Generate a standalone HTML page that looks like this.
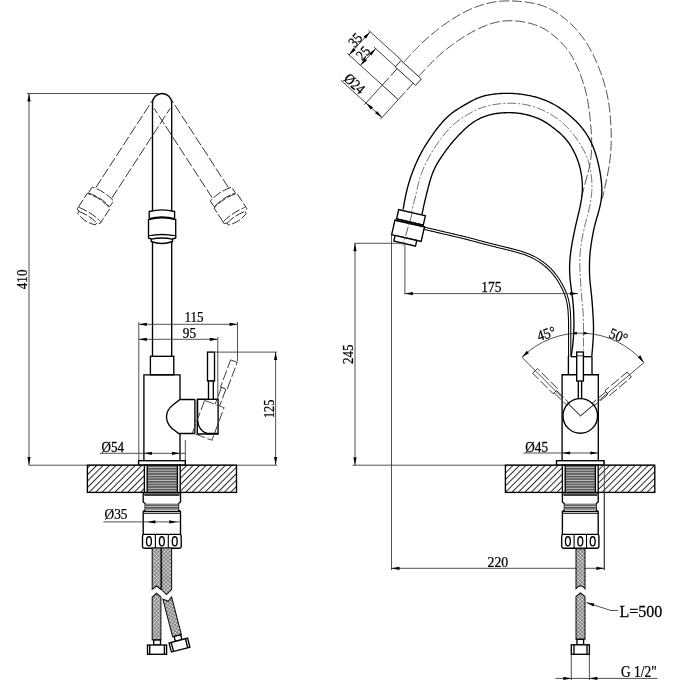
<!DOCTYPE html>
<html><head><meta charset="utf-8"><style>
html,body{margin:0;padding:0;background:#fff;}
svg{display:block;will-change:transform;}
text{font-family:"Liberation Serif",serif;fill:#000;stroke:#000;stroke-width:0.25;}
.o{stroke:#000;stroke-width:1.35;fill:none;}
.o2{stroke:#000;stroke-width:1.1;fill:none;}
.thin{stroke:#222;stroke-width:0.9;fill:none;}
.d{stroke:#333;stroke-width:0.85;fill:none;}
.dash{stroke:#333;stroke-width:0.9;fill:none;stroke-dasharray:10 2.6;}
.dashg{stroke:#4a4a4a;stroke-width:1.0;fill:none;stroke-dasharray:10 2.8;}
.dash2{stroke:#222;stroke-width:0.85;fill:none;stroke-dasharray:9 2.2;}
.ho{stroke:#111;stroke-width:1.05;fill:none;}
.cl{stroke:#444;stroke-width:0.8;fill:none;stroke-dasharray:9 2 2 2;}
</style></head><body>
<svg width="680" height="680" viewBox="0 0 680 680">
<defs>
<pattern id="hatchL" patternUnits="userSpaceOnUse" width="4.55" height="4.55" patternTransform="translate(1.6 0) rotate(45)">
<rect width="4.55" height="4.55" style="fill:#fff"/><line x1="0.5" y1="0" x2="0.5" y2="4.55" stroke="#111" stroke-width="0.9"/>
</pattern>
<pattern id="hatchR" patternUnits="userSpaceOnUse" width="4.55" height="4.55" patternTransform="translate(-0.3 0) rotate(45)">
<rect width="4.55" height="4.55" style="fill:#fff"/><line x1="0.5" y1="0" x2="0.5" y2="4.55" stroke="#111" stroke-width="0.9"/>
</pattern>
<pattern id="thread" patternUnits="userSpaceOnUse" width="4" height="2.6">
<rect width="4" height="2.6" style="fill:#555"/><rect y="1.6" width="4" height="0.8" style="fill:#ddd"/>
</pattern>
<pattern id="braid" patternUnits="userSpaceOnUse" width="2.7" height="2.7" patternTransform="rotate(45)">
<rect width="2.7" height="2.7" style="fill:#8a8a8a"/><circle cx="1.35" cy="1.35" r="0.95" style="fill:#f4f4f4"/><circle cx="0" cy="0" r="0.55" style="fill:#333"/><circle cx="2.7" cy="0" r="0.55" style="fill:#333"/><circle cx="0" cy="2.7" r="0.55" style="fill:#333"/><circle cx="2.7" cy="2.7" r="0.55" style="fill:#333"/>
</pattern>
</defs>
<rect width="680" height="680" style="fill:#fff"/>
<line x1="29.00" y1="93.50" x2="29.00" y2="465.00" class="d"/>
<path d="M29.00,93.50 L30.60,101.50 L27.40,101.50 Z" fill="#000"/>
<path d="M29.00,465.00 L27.40,457.00 L30.60,457.00 Z" fill="#000"/>
<line x1="27.00" y1="93.50" x2="158.00" y2="93.50" class="d"/>
<text transform="translate(21.77 279.37) rotate(-90.0) scale(0.857 1)" font-size="15.26" text-anchor="middle" dominant-baseline="central">410</text>
<g transform="rotate(33.0 162 103.1)">
<path d="M152.5,210 V103.1 M171.7,210 V103.1" class="dash"/>
<path d="M149.2,218 V211.5 Q162,208.2 174.6,211.5 V218" class="dash2" style="fill:#fff"/>
<path d="M148.5,236 V219.5 Q162,216 175.7,219.5 V236 Q162,233 148.5,236 Z" class="dash2" style="fill:#fff"/>
<path d="M149.2,218.6 Q162,215.2 174.6,218.6" class="dash2" stroke-width="2"/>
<path d="M148.5,236 V238 L151.2,239 V241.5 Q162,245.5 172.5,241.5 V239 L175.7,238 V236" class="dash2" style="fill:#fff"/>
<path d="M151.2,239.2 Q162,236.8 172.5,239.2" class="dash2"/>
</g>
<g transform="rotate(-33.0 162 103.1)">
<path d="M152.5,210 V103.1 M171.7,210 V103.1" class="dash"/>
<path d="M149.2,218 V211.5 Q162,208.2 174.6,211.5 V218" class="dash2" style="fill:#fff"/>
<path d="M148.5,236 V219.5 Q162,216 175.7,219.5 V236 Q162,233 148.5,236 Z" class="dash2" style="fill:#fff"/>
<path d="M149.2,218.6 Q162,215.2 174.6,218.6" class="dash2" stroke-width="2"/>
<path d="M148.5,236 V238 L151.2,239 V241.5 Q162,245.5 172.5,241.5 V239 L175.7,238 V236" class="dash2" style="fill:#fff"/>
<path d="M151.2,239.2 Q162,236.8 172.5,239.2" class="dash2"/>
</g>
<path d="M152.5,357 V103.1 A9.6,9.6 0 0 1 171.7,103.1 V357" class="o"/>
<path d="M149.2,218 V211.5 Q162,208.2 174.6,211.5 V218" class="o" style="fill:#fff"/>
<path d="M148.5,236 V219.5 Q162,216 175.7,219.5 V236 Q162,233 148.5,236 Z" class="o" style="fill:#fff"/>
<path d="M149.2,218.6 Q162,215.2 174.6,218.6" class="o" stroke-width="2"/>
<path d="M148.5,236 V238 L151.2,239 V241.5 Q162,245.5 172.5,241.5 V239 L175.7,238 V236" class="o" style="fill:#fff"/>
<path d="M151.2,239.2 Q162,236.8 172.5,239.2" class="o"/>
<rect x="150.4" y="356.3" width="23.4" height="18.5" class="o" style="fill:#fff"/>
<path d="M143.9,461 V374.8 H180 V399.5 M180,433.5 V461" class="o"/>
<path d="M194.9,399.5 H180 L173.5,404.5 Q166.5,410 166.5,416.5 Q166.5,423 171.5,428 L178.7,433.5 H194.9" class="o" style="fill:#fff"/>
<path d="M194.9,399.5 V433.5" class="o"/>
<path d="M197.3,399.2 H218.1 V434 H197.3 Z" class="o" style="fill:#fff"/>
<path d="M197.6,399.5 V420 Q198.5,431 207,433.5 H218" class="o"/>
<rect x="207.5" y="352.1" width="7" height="28.9" class="o" style="fill:#fff"/>
<rect x="208.5" y="381" width="4.8" height="18.3" class="o" style="fill:#fff"/>
<g transform="rotate(20.5 197.6 420)">
<rect x="207.5" y="352.1" width="7" height="28.9" class="dash"/>
<path d="M208.5,381 V399 M213.3,381 V399" class="dash"/>
<path d="M197.3,399.2 H218.1 V434 H197.3 Z" class="dash"/>
</g>
<line x1="138.80" y1="322.00" x2="138.80" y2="460.50" class="d"/>
<line x1="138.80" y1="324.30" x2="237.50" y2="324.30" class="d"/>
<path d="M138.80,324.30 L146.80,322.70 L146.80,325.90 Z" fill="#000"/>
<path d="M237.50,324.30 L229.50,325.90 L229.50,322.70 Z" fill="#000"/>
<line x1="237.50" y1="322.00" x2="237.50" y2="361.00" class="d"/>
<text transform="translate(193.94 317.40) rotate(0.0) scale(0.930 1)" font-size="14.02" text-anchor="middle" dominant-baseline="central">115</text>
<line x1="138.80" y1="339.30" x2="217.80" y2="339.30" class="d"/>
<path d="M138.80,339.30 L146.80,337.70 L146.80,340.90 Z" fill="#000"/>
<path d="M217.80,339.30 L209.80,340.90 L209.80,337.70 Z" fill="#000"/>
<line x1="217.80" y1="337.00" x2="217.80" y2="399.00" class="d"/>
<text transform="translate(189.45 333.41) rotate(0.0) scale(0.961 1)" font-size="13.83" text-anchor="middle" dominant-baseline="central">95</text>
<line x1="214.50" y1="352.10" x2="277.00" y2="352.10" class="d"/>
<line x1="275.60" y1="352.10" x2="275.60" y2="465.00" class="d"/>
<path d="M275.60,352.10 L277.20,360.10 L274.00,360.10 Z" fill="#000"/>
<path d="M275.60,465.00 L274.00,457.00 L277.20,457.00 Z" fill="#000"/>
<text transform="translate(268.79 408.91) rotate(-90.0) scale(0.843 1)" font-size="14.54" text-anchor="middle" dominant-baseline="central">125</text>
<line x1="99.70" y1="453.30" x2="185.50" y2="453.30" class="d"/>
<path d="M143.90,453.30 L151.90,451.70 L151.90,454.90 Z" fill="#000"/>
<path d="M180.00,453.30 L172.00,454.90 L172.00,451.70 Z" fill="#000"/>
<line x1="185.30" y1="440.00" x2="185.30" y2="460.70" class="d"/>
<text transform="translate(112.82 446.82) rotate(0.0) scale(0.873 1)" font-size="14.95" text-anchor="middle" dominant-baseline="central">Ø54</text>
<line x1="28.70" y1="465.20" x2="277.00" y2="465.20" class="d"/>
<rect x="138.6" y="460.7" width="46.7" height="4.4" class="o" style="fill:#fff"/>
<rect x="87.4" y="465.2" width="149.1" height="27.2" style="fill:url(#hatchL)" class="o"/>
<rect x="144.4" y="465.2" width="35.8" height="27.2" style="fill:#fff" class="o"/>
<rect x="147.4" y="466" width="29.8" height="26" style="fill:url(#thread)"/>
<line x1="147.20" y1="465.20" x2="147.20" y2="492.40" class="o"/>
<line x1="177.40" y1="465.20" x2="177.40" y2="492.40" class="o"/>
<path d="M143.2,492.6 V502 L145.2,503.5 V510 L143.2,511.5 V534.4 M180.5,492.6 V502 L178.5,503.5 V510 L180.5,511.5 V534.4" class="o"/>
<line x1="143.2" y1="492.9" x2="180.5" y2="492.9" class="o" stroke-width="2"/>
<line x1="144.2" y1="495" x2="179.5" y2="495" class="o"/>
<rect x="145.2" y="503.5" width="33.3" height="6.5" style="fill:url(#thread)"/>
<line x1="143.2" y1="511.5" x2="180.5" y2="511.5" class="o"/>
<line x1="143.2" y1="513.5" x2="180.5" y2="513.5" class="thin"/>
<rect x="142.5" y="534.4" width="38.7" height="13.8" rx="1.6" class="o" style="fill:#fff"/>
<line x1="155.4" y1="534.4" x2="155.4" y2="548.2" class="o2"/>
<line x1="168.3" y1="534.4" x2="168.3" y2="548.2" class="o2"/>
<ellipse cx="148.95" cy="541.3" rx="2.45" ry="4.6" style="fill:none;stroke:#000;stroke-width:1.35"/>
<ellipse cx="161.85" cy="541.3" rx="2.45" ry="4.6" style="fill:none;stroke:#000;stroke-width:1.35"/>
<ellipse cx="174.75" cy="541.3" rx="2.45" ry="4.6" style="fill:none;stroke:#000;stroke-width:1.35"/>
<line x1="103.40" y1="521.90" x2="180.50" y2="521.90" class="d"/>
<path d="M147.40,521.90 L155.40,520.30 L155.40,523.50 Z" fill="#000"/>
<path d="M177.20,521.90 L169.20,523.50 L169.20,520.30 Z" fill="#000"/>
<text transform="translate(116.05 514.74) rotate(0.0) scale(0.923 1)" font-size="14.47" text-anchor="middle" dominant-baseline="central">Ø35</text>
<path d="M152.2,548 V589.5 L156.5,586 L160.9,589.5 V548 Z" style="fill:url(#braid)" class="ho"/>
<path d="M161.6,548 V589.5 L166.5,594.5 L171.6,589.5 V548 Z" style="fill:url(#braid)" class="ho"/>
<path d="M152.2,640 V597 L156.5,593.3 L160.9,597 V640 Z" style="fill:url(#braid)" class="ho"/>
<rect x="153.7" y="640" width="6.8" height="5" class="o" style="fill:#fff"/>
<rect x="147.5" y="645" width="19.1" height="9.3" class="o" style="fill:#fff"/>
<line x1="149.70" y1="645.00" x2="149.70" y2="654.30" class="o"/>
<line x1="164.40" y1="645.00" x2="164.40" y2="654.30" class="o"/>
<g transform="rotate(-14.5 167 597)">
<path d="M162.5,637 V598 L167,601.5 L171.5,598 V637 Z" style="fill:url(#braid)" class="ho"/>
<rect x="164" y="637" width="6.8" height="5" class="o" style="fill:#fff"/>
<rect x="157.5" y="642" width="19.1" height="9.3" class="o" style="fill:#fff"/>
<line x1="159.70" y1="642.00" x2="159.70" y2="651.30" class="o"/>
<line x1="174.40" y1="642.00" x2="174.40" y2="651.30" class="o"/>
</g>
<path d="M404.10,61.80 L405.11,60.68 L406.13,59.57 L407.15,58.45 L408.16,57.34 L409.18,56.23 L410.21,55.12 L411.23,54.01 L412.26,52.91 L413.29,51.81 L414.33,50.72 L415.38,49.63 L416.43,48.55 L417.48,47.48 L418.55,46.41 L419.62,45.35 L420.70,44.30 L421.78,43.25 L422.87,42.21 L423.98,41.18 L425.08,40.16 L426.20,39.15 L427.33,38.15 L428.46,37.15 L429.60,36.16 L430.75,35.18 L431.90,34.21 L433.06,33.25 L434.23,32.30 L435.41,31.35 L436.59,30.41 L437.78,29.48 L438.97,28.56 L440.17,27.64 L441.38,26.74 L442.59,25.84 L443.81,24.95 L445.04,24.07 L446.27,23.20 L447.51,22.34 L448.75,21.49 L450.01,20.65 L451.26,19.82 L452.53,19.00 L453.80,18.19 L455.09,17.39 L456.37,16.61 L457.67,15.84 L458.97,15.08 L460.29,14.34 L461.61,13.61 L462.93,12.90 L464.27,12.20 L465.62,11.51 L466.97,10.85 L468.33,10.20 L469.70,9.56 L471.08,8.95 L472.46,8.35 L473.86,7.77 L475.26,7.22 L476.67,6.68 L478.09,6.16 L479.51,5.67 L480.94,5.20 L482.39,4.75 L483.83,4.32 L485.29,3.91 L486.75,3.54 L488.22,3.18 L489.69,2.85 L491.17,2.54 L492.65,2.26 L494.14,2.01 L495.63,1.78 L497.13,1.58 L498.62,1.41 L500.12,1.26 L501.62,1.14 L503.12,1.04 L504.63,0.97 L506.13,0.93 L507.64,0.91 L509.14,0.91 L510.65,0.93 L512.15,0.98 L513.66,1.04 L515.17,1.12 L516.68,1.21 L518.18,1.32 L519.69,1.45 L521.20,1.59 L522.70,1.74 L524.21,1.90 L525.71,2.08 L527.21,2.28 L528.71,2.49 L530.20,2.73 L531.69,2.98 L533.17,3.26 L534.65,3.57 L536.11,3.90 L537.57,4.27 L539.02,4.66 L540.46,5.09 L541.89,5.56 L543.30,6.06 L544.71,6.59 L546.10,7.16 L547.48,7.77 L548.84,8.40 L550.19,9.07 L551.53,9.77 L552.86,10.49 L554.17,11.24 L555.46,12.02 L556.75,12.82 L558.02,13.64 L559.27,14.49 L560.51,15.35 L561.74,16.24 L562.95,17.14 L564.14,18.07 L565.32,19.01 L566.48,19.97 L567.63,20.95 L568.76,21.95 L569.88,22.96 L570.98,23.99 L572.06,25.04 L573.13,26.11 L574.18,27.19 L575.21,28.29 L576.22,29.41 L577.22,30.54 L578.20,31.69 L579.16,32.85 L580.11,34.02 L581.04,35.21 L581.95,36.42 L582.84,37.63 L583.72,38.86 L584.58,40.10 L585.42,41.35 L586.25,42.62 L587.06,43.89 L587.85,45.18 L588.62,46.47 L589.38,47.78 L590.12,49.09 L590.85,50.41 L591.56,51.74 L592.26,53.08 L592.94,54.42 L593.60,55.78 L594.25,57.14 L594.89,58.50 L595.52,59.88 L596.13,61.25 L596.73,62.64 L597.32,64.03 L597.90,65.42 L598.47,66.82 L599.02,68.22 L599.57,69.63 L600.10,71.04 L600.63,72.46 L601.15,73.88 L601.65,75.30 L602.14,76.73 L602.62,78.16 L603.10,79.59 L603.55,81.03 L604.00,82.47 L604.43,83.92 L604.85,85.37 L605.25,86.82 L605.64,88.27 L606.02,89.73 L606.37,91.20 L606.72,92.66 L607.04,94.13 L607.36,95.61 L607.65,97.08 L607.93,98.56 L608.20,100.05 L608.45,101.53 L608.69,103.02 L608.91,104.51 L609.12,106.01 L609.32,107.50 L609.50,109.00 L609.68,110.50 L609.84,112.00 L610.00,113.50 L610.14,115.01 L610.28,116.51 L610.40,118.01 L610.52,119.52 L610.63,121.02 L610.73,122.53 L610.82,124.04 L610.91,125.54 L610.98,127.05 L611.05,128.55 L611.11,130.06 L611.16,131.57 L611.20,133.07 L611.23,134.58 L611.24,136.09 L611.25,137.60 L611.25,139.10 L611.23,140.61 L611.20,142.12 L611.16,143.63 L611.11,145.13 L611.05,146.64 L610.97,148.15 L610.89,149.65 L610.78,151.16 L610.67,152.66 L610.54,154.16 L610.40,155.67 L610.25,157.17 L610.08,158.66 L609.90,160.16 L609.71,161.66 L609.51,163.15 L609.29,164.64 L609.06,166.13 L608.82,167.62 L608.56,169.11 L608.30,170.59 L608.03,172.07 L607.75,173.56 L607.46,175.04 L607.17,176.51 L606.86,177.99 L606.56,179.47 L606.25,180.94 L605.93,182.42 L605.61,183.89 L605.29,185.36 L604.96,186.84 L604.64,188.31 L604.31,189.78 L603.97,191.25 L603.64,192.72 L603.31,194.19 L602.97,195.66 L602.64,197.13 L602.30,198.60" class="dashg"/>
<path d="M418.50,76.50 L419.53,75.39 L420.56,74.27 L421.59,73.16 L422.62,72.05 L423.65,70.94 L424.69,69.83 L425.73,68.73 L426.77,67.63 L427.81,66.53 L428.87,65.44 L429.92,64.36 L430.98,63.28 L432.05,62.21 L433.12,61.14 L434.20,60.08 L435.29,59.03 L436.38,57.99 L437.49,56.96 L438.60,55.93 L439.72,54.92 L440.85,53.92 L441.99,52.92 L443.14,51.94 L444.30,50.97 L445.46,50.01 L446.64,49.06 L447.83,48.12 L449.02,47.19 L450.22,46.27 L451.43,45.36 L452.65,44.46 L453.88,43.57 L455.11,42.69 L456.35,41.82 L457.60,40.96 L458.86,40.12 L460.12,39.28 L461.38,38.45 L462.66,37.62 L463.93,36.81 L465.22,36.02 L466.51,35.23 L467.81,34.45 L469.12,33.68 L470.43,32.93 L471.75,32.19 L473.08,31.47 L474.41,30.76 L475.76,30.06 L477.11,29.38 L478.47,28.72 L479.85,28.07 L481.23,27.45 L482.62,26.84 L484.02,26.25 L485.43,25.69 L486.85,25.14 L488.28,24.63 L489.71,24.13 L491.16,23.67 L492.61,23.23 L494.07,22.83 L495.54,22.46 L497.01,22.12 L498.49,21.82 L499.97,21.55 L501.46,21.32 L502.96,21.13 L504.46,20.97 L505.96,20.86 L507.47,20.78 L508.97,20.74 L510.48,20.73 L511.99,20.76 L513.51,20.82 L515.02,20.91 L516.53,21.03 L518.05,21.18 L519.56,21.35 L521.06,21.55 L522.57,21.78 L524.07,22.03 L525.57,22.31 L527.06,22.62 L528.54,22.95 L530.01,23.31 L531.48,23.70 L532.93,24.12 L534.37,24.57 L535.79,25.06 L537.20,25.59 L538.60,26.16 L539.97,26.76 L541.33,27.41 L542.67,28.09 L543.99,28.81 L545.29,29.57 L546.58,30.36 L547.84,31.19 L549.09,32.05 L550.32,32.93 L551.54,33.85 L552.74,34.78 L553.92,35.75 L555.08,36.73 L556.23,37.73 L557.36,38.75 L558.48,39.79 L559.58,40.84 L560.66,41.91 L561.72,43.00 L562.76,44.11 L563.78,45.23 L564.78,46.36 L565.75,47.52 L566.70,48.70 L567.62,49.89 L568.51,51.10 L569.38,52.34 L570.21,53.59 L571.02,54.86 L571.80,56.15 L572.56,57.45 L573.29,58.77 L573.99,60.11 L574.67,61.46 L575.34,62.82 L575.98,64.20 L576.60,65.58 L577.21,66.97 L577.81,68.37 L578.40,69.77 L578.97,71.18 L579.53,72.59 L580.08,74.00 L580.61,75.42 L581.14,76.85 L581.66,78.27 L582.16,79.70 L582.65,81.13 L583.13,82.57 L583.59,84.01 L584.03,85.45 L584.47,86.90 L584.88,88.35 L585.28,89.81 L585.66,91.27 L586.02,92.73 L586.37,94.20 L586.70,95.68 L587.02,97.15 L587.31,98.64 L587.60,100.12 L587.87,101.61 L588.12,103.10 L588.36,104.60 L588.59,106.09 L588.81,107.59 L589.02,109.09 L589.21,110.60 L589.40,112.10 L589.58,113.61 L589.76,115.11 L589.92,116.62 L590.08,118.13 L590.24,119.63 L590.38,121.14 L590.53,122.65 L590.66,124.16 L590.79,125.66 L590.92,127.17 L591.04,128.68 L591.15,130.19 L591.25,131.70 L591.34,133.21 L591.43,134.72 L591.51,136.23 L591.57,137.75 L591.62,139.26 L591.66,140.77 L591.69,142.29 L591.70,143.80 L591.70,145.31 L591.68,146.83 L591.64,148.34 L591.58,149.85 L591.50,151.36 L591.40,152.87 L591.28,154.38 L591.13,155.88 L590.96,157.39 L590.77,158.88 L590.55,160.38 L590.31,161.87 L590.06,163.36 L589.78,164.85 L589.48,166.33 L589.16,167.81 L588.83,169.29 L588.48,170.76 L588.12,172.23 L587.74,173.70 L587.36,175.16 L586.97,176.63 L586.58,178.09 L586.18,179.55 L585.78,181.01 L585.38,182.47 L584.99,183.93 L584.60,185.39 L584.21,186.85 L583.83,188.31 L583.46,189.78 L583.09,191.25 L582.72,192.72 L582.36,194.19 L582.01,195.66 L581.65,197.13 L581.30,198.60" class="dashg"/>
<path d="M403.10,209.50 L403.36,208.01 L403.61,206.53 L403.87,205.04 L404.14,203.56 L404.40,202.08 L404.68,200.59 L404.96,199.11 L405.25,197.64 L405.56,196.16 L405.87,194.69 L406.19,193.22 L406.53,191.75 L406.88,190.28 L407.25,188.82 L407.63,187.36 L408.02,185.91 L408.42,184.46 L408.84,183.01 L409.28,181.57 L409.73,180.13 L410.19,178.69 L410.66,177.26 L411.15,175.84 L411.65,174.42 L412.16,173.00 L412.69,171.59 L413.23,170.18 L413.78,168.78 L414.35,167.38 L414.92,165.99 L415.52,164.60 L416.12,163.22 L416.74,161.85 L417.37,160.48 L418.01,159.12 L418.67,157.76 L419.34,156.41 L420.02,155.07 L420.72,153.74 L421.43,152.41 L422.16,151.09 L422.90,149.77 L423.65,148.47 L424.41,147.17 L425.19,145.88 L425.98,144.59 L426.78,143.32 L427.59,142.05 L428.41,140.78 L429.24,139.52 L430.08,138.27 L430.92,137.03 L431.78,135.79 L432.65,134.56 L433.52,133.33 L434.41,132.11 L435.30,130.90 L436.21,129.70 L437.13,128.50 L438.06,127.32 L439.00,126.14 L439.96,124.97 L440.93,123.81 L441.92,122.67 L442.92,121.54 L443.95,120.43 L444.99,119.34 L446.05,118.27 L447.13,117.22 L448.23,116.20 L449.36,115.21 L450.51,114.25 L451.68,113.32 L452.88,112.41 L454.10,111.53 L455.33,110.68 L456.58,109.85 L457.85,109.04 L459.13,108.25 L460.42,107.46 L461.72,106.69 L463.03,105.92 L464.34,105.15 L465.65,104.39 L466.96,103.64 L468.28,102.89 L469.60,102.15 L470.93,101.42 L472.26,100.71 L473.60,100.02 L474.95,99.35 L476.31,98.72 L477.68,98.12 L479.07,97.56 L480.47,97.05 L481.89,96.57 L483.32,96.14 L484.76,95.74 L486.22,95.39 L487.69,95.08 L489.17,94.80 L490.66,94.56 L492.15,94.34 L493.65,94.15 L495.15,93.98 L496.66,93.83 L498.16,93.70 L499.67,93.58 L501.18,93.49 L502.68,93.41 L504.19,93.36 L505.69,93.32 L507.20,93.30 L508.70,93.31 L510.20,93.34 L511.71,93.39 L513.21,93.47 L514.71,93.57 L516.21,93.69 L517.71,93.83 L519.21,93.99 L520.71,94.17 L522.20,94.37 L523.70,94.59 L525.18,94.82 L526.67,95.08 L528.15,95.35 L529.63,95.64 L531.11,95.96 L532.58,96.29 L534.04,96.65 L535.50,97.02 L536.95,97.43 L538.40,97.85 L539.83,98.30 L541.26,98.78 L542.68,99.28 L544.09,99.81 L545.49,100.37 L546.88,100.95 L548.26,101.56 L549.63,102.19 L550.99,102.85 L552.33,103.53 L553.66,104.24 L554.98,104.97 L556.28,105.73 L557.57,106.51 L558.84,107.31 L560.10,108.14 L561.35,108.98 L562.58,109.85 L563.80,110.74 L565.00,111.64 L566.19,112.57 L567.37,113.51 L568.54,114.47 L569.69,115.44 L570.83,116.43 L571.96,117.44 L573.07,118.46 L574.17,119.49 L575.25,120.54 L576.32,121.60 L577.38,122.68 L578.41,123.78 L579.42,124.89 L580.42,126.02 L581.39,127.17 L582.34,128.34 L583.27,129.53 L584.17,130.73 L585.04,131.96 L585.89,133.20 L586.71,134.46 L587.51,135.74 L588.28,137.03 L589.02,138.34 L589.74,139.67 L590.43,141.01 L591.09,142.36 L591.73,143.73 L592.34,145.10 L592.93,146.49 L593.49,147.89 L594.03,149.30 L594.54,150.71 L595.04,152.14 L595.51,153.57 L595.96,155.00 L596.40,156.45 L596.81,157.90 L597.21,159.35 L597.59,160.81 L597.95,162.27 L598.30,163.74 L598.64,165.21 L598.95,166.68 L599.26,168.15 L599.55,169.63 L599.82,171.12 L600.09,172.60 L600.34,174.09 L600.57,175.58 L600.79,177.07 L600.99,178.56 L601.18,180.06 L601.34,181.55 L601.49,183.05 L601.61,184.56 L601.70,186.06 L601.77,187.56 L601.81,189.07 L601.82,190.57 L601.80,192.07 L601.74,193.58 L601.65,195.08 L601.53,196.58 L601.38,198.08 L601.19,199.57 L600.98,201.06 L600.73,202.54 L600.45,204.02 L600.15,205.50 L599.82,206.97 L599.46,208.43 L599.09,209.89 L598.70,211.35 L598.30,212.80 L597.89,214.25 L597.47,215.69 L597.05,217.14 L596.63,218.59 L596.21,220.04 L595.81,221.49 L595.41,222.94 L595.03,224.40 L594.66,225.86 L594.31,227.32 L593.97,228.79 L593.65,230.26 L593.34,231.73 L593.05,233.21 L592.77,234.69 L592.49,236.18 L592.23,237.66 L591.98,239.15 L591.73,240.64 L591.49,242.12 L591.26,243.62 L591.04,245.11 L590.83,246.60 L590.63,248.09 L590.45,249.59 L590.28,251.08 L590.12,252.58 L589.98,254.08 L589.86,255.58 L589.76,257.08 L589.67,258.59 L589.60,260.09 L589.54,261.60 L589.50,263.10 L589.47,264.61 L589.46,266.12 L589.45,267.62 L589.46,269.13 L589.48,270.64 L589.51,272.15 L589.55,273.65 L589.61,275.16 L589.68,276.66 L589.77,278.17 L589.88,279.67 L590.00,281.17 L590.14,282.67 L590.29,284.17 L590.45,285.66 L590.61,287.16 L590.78,288.66 L590.95,290.16 L591.12,291.65 L591.28,293.15 L591.44,294.65 L591.59,296.15 L591.74,297.65 L591.87,299.15 L592.00,300.65 L592.13,302.15 L592.24,303.66 L592.36,305.16 L592.47,306.66 L592.57,308.17 L592.68,309.67 L592.78,311.17 L592.88,312.68 L592.97,314.18 L593.07,315.69 L593.16,317.19 L593.24,318.70 L593.31,320.20 L593.38,321.71 L593.43,323.21 L593.47,324.72 L593.50,326.22 L593.51,327.73 L593.51,329.24 L593.49,330.74 L593.46,332.25 L593.41,333.75 L593.36,335.26 L593.28,336.76 L593.20,338.27 L593.11,339.77 L593.02,341.28 L592.91,342.78 L592.80,344.29 L592.69,345.79 L592.57,347.29 L592.44,348.79 L592.32,350.30 L592.19,351.80 L592.06,353.30 L591.93,354.80 L591.80,356.30" class="o"/>
<path d="M421.90,214.50 L422.22,213.03 L422.54,211.56 L422.86,210.08 L423.18,208.61 L423.50,207.14 L423.83,205.67 L424.16,204.20 L424.49,202.74 L424.83,201.27 L425.18,199.81 L425.52,198.34 L425.88,196.88 L426.23,195.42 L426.59,193.96 L426.96,192.50 L427.32,191.03 L427.70,189.57 L428.07,188.11 L428.45,186.65 L428.84,185.20 L429.23,183.74 L429.63,182.28 L430.04,180.83 L430.47,179.39 L430.92,177.95 L431.38,176.52 L431.87,175.10 L432.39,173.68 L432.93,172.29 L433.51,170.90 L434.11,169.53 L434.75,168.17 L435.42,166.83 L436.12,165.50 L436.85,164.18 L437.60,162.88 L438.38,161.59 L439.17,160.31 L439.98,159.04 L440.81,157.78 L441.65,156.53 L442.50,155.29 L443.36,154.05 L444.23,152.82 L445.11,151.60 L446.00,150.39 L446.90,149.18 L447.81,147.98 L448.73,146.79 L449.65,145.60 L450.59,144.43 L451.54,143.26 L452.51,142.10 L453.48,140.95 L454.46,139.82 L455.46,138.69 L456.47,137.58 L457.50,136.48 L458.53,135.38 L459.58,134.30 L460.64,133.23 L461.71,132.17 L462.79,131.12 L463.87,130.08 L464.97,129.05 L466.08,128.03 L467.21,127.03 L468.35,126.05 L469.51,125.09 L470.68,124.16 L471.88,123.26 L473.11,122.39 L474.35,121.56 L475.62,120.77 L476.92,120.01 L478.24,119.29 L479.58,118.61 L480.93,117.97 L482.31,117.37 L483.70,116.81 L485.11,116.28 L486.53,115.80 L487.97,115.35 L489.41,114.95 L490.87,114.58 L492.33,114.25 L493.80,113.95 L495.28,113.69 L496.77,113.47 L498.26,113.28 L499.76,113.11 L501.25,112.98 L502.75,112.87 L504.26,112.79 L505.76,112.73 L507.26,112.69 L508.77,112.68 L510.27,112.69 L511.78,112.73 L513.28,112.79 L514.78,112.88 L516.28,113.00 L517.78,113.14 L519.27,113.32 L520.75,113.54 L522.23,113.78 L523.71,114.06 L525.18,114.37 L526.64,114.72 L528.10,115.09 L529.55,115.49 L530.99,115.92 L532.43,116.37 L533.86,116.85 L535.28,117.36 L536.68,117.89 L538.08,118.46 L539.45,119.06 L540.81,119.69 L542.15,120.36 L543.46,121.07 L544.76,121.82 L546.04,122.61 L547.30,123.42 L548.54,124.27 L549.77,125.14 L550.99,126.02 L552.20,126.93 L553.40,127.84 L554.59,128.77 L555.78,129.71 L556.95,130.66 L558.11,131.62 L559.25,132.60 L560.38,133.60 L561.48,134.62 L562.56,135.66 L563.61,136.73 L564.63,137.82 L565.62,138.95 L566.58,140.10 L567.51,141.28 L568.40,142.48 L569.27,143.71 L570.11,144.96 L570.92,146.23 L571.70,147.52 L572.45,148.83 L573.18,150.15 L573.88,151.49 L574.55,152.83 L575.19,154.19 L575.81,155.57 L576.40,156.95 L576.97,158.34 L577.50,159.75 L578.01,161.16 L578.49,162.59 L578.94,164.02 L579.36,165.47 L579.76,166.92 L580.12,168.38 L580.46,169.84 L580.77,171.32 L581.05,172.79 L581.31,174.28 L581.54,175.77 L581.74,177.26 L581.92,178.76 L582.06,180.26 L582.18,181.76 L582.28,183.26 L582.34,184.76 L582.37,186.27 L582.38,187.77 L582.35,189.27 L582.30,190.77 L582.21,192.27 L582.10,193.77 L581.96,195.27 L581.78,196.76 L581.59,198.26 L581.37,199.74 L581.12,201.23 L580.86,202.71 L580.58,204.19 L580.28,205.67 L579.97,207.14 L579.65,208.61 L579.32,210.08 L578.98,211.55 L578.63,213.01 L578.29,214.48 L577.94,215.94 L577.59,217.41 L577.24,218.87 L576.89,220.33 L576.54,221.80 L576.21,223.27 L575.87,224.73 L575.54,226.20 L575.21,227.67 L574.89,229.14 L574.58,230.62 L574.27,232.09 L573.96,233.56 L573.66,235.04 L573.36,236.52 L573.07,237.99 L572.79,239.47 L572.51,240.95 L572.24,242.43 L571.98,243.91 L571.72,245.40 L571.48,246.88 L571.25,248.37 L571.03,249.86 L570.82,251.35 L570.63,252.85 L570.45,254.34 L570.28,255.84 L570.14,257.33 L570.01,258.83 L569.89,260.34 L569.80,261.84 L569.72,263.34 L569.67,264.85 L569.63,266.35 L569.61,267.85 L569.62,269.36 L569.64,270.86 L569.68,272.37 L569.75,273.87 L569.83,275.37 L569.93,276.88 L570.04,278.38 L570.18,279.88 L570.33,281.37 L570.49,282.87 L570.67,284.36 L570.85,285.86 L571.05,287.35 L571.25,288.84 L571.46,290.33 L571.66,291.83 L571.87,293.32 L572.07,294.81 L572.27,296.30 L572.46,297.79 L572.64,299.29 L572.81,300.78 L572.96,302.28 L573.10,303.78 L573.23,305.28 L573.35,306.78 L573.45,308.28 L573.54,309.78 L573.62,311.29 L573.69,312.79 L573.75,314.30 L573.80,315.80 L573.84,317.31 L573.87,318.81 L573.90,320.32 L573.92,321.83 L573.92,323.33 L573.92,324.84 L573.91,326.34 L573.88,327.85 L573.85,329.35 L573.80,330.86 L573.74,332.36 L573.67,333.86 L573.59,335.37 L573.49,336.87 L573.38,338.37 L573.25,339.87 L573.12,341.37 L572.97,342.87 L572.81,344.36 L572.63,345.86 L572.45,347.35 L572.26,348.85 L572.05,350.34 L571.85,351.83 L571.63,353.32 L571.42,354.81 L571.20,356.30" class="o"/>
<path d="M410.00,219.00 L410.32,217.53 L410.64,216.06 L410.97,214.59 L411.31,213.12 L411.65,211.65 L412.00,210.19 L412.36,208.73 L412.72,207.27 L413.09,205.81 L413.46,204.35 L413.83,202.89 L414.20,201.43 L414.57,199.97 L414.93,198.51 L415.29,197.05 L415.64,195.58 L415.98,194.12 L416.33,192.65 L416.67,191.18 L417.01,189.71 L417.35,188.25 L417.69,186.78 L418.04,185.31 L418.40,183.85 L418.76,182.39 L419.15,180.93 L419.55,179.48 L419.97,178.04 L420.41,176.60 L420.88,175.17 L421.37,173.76 L421.89,172.34 L422.43,170.94 L423.00,169.55 L423.59,168.17 L424.20,166.79 L424.83,165.42 L425.47,164.06 L426.13,162.70 L426.80,161.35 L427.48,160.01 L428.18,158.67 L428.88,157.34 L429.60,156.01 L430.34,154.70 L431.08,153.39 L431.84,152.09 L432.62,150.81 L433.41,149.53 L434.22,148.26 L435.04,147.00 L435.88,145.75 L436.73,144.52 L437.60,143.29 L438.48,142.06 L439.37,140.84 L440.27,139.63 L441.17,138.43 L442.09,137.23 L443.01,136.03 L443.95,134.85 L444.89,133.67 L445.85,132.51 L446.82,131.36 L447.82,130.23 L448.83,129.12 L449.86,128.03 L450.91,126.97 L451.99,125.93 L453.10,124.91 L454.22,123.93 L455.37,122.96 L456.55,122.03 L457.74,121.11 L458.95,120.22 L460.18,119.34 L461.42,118.48 L462.68,117.64 L463.95,116.81 L465.22,116.00 L466.51,115.20 L467.80,114.42 L469.10,113.65 L470.42,112.90 L471.74,112.17 L473.07,111.46 L474.41,110.78 L475.76,110.12 L477.12,109.49 L478.50,108.89 L479.88,108.33 L481.28,107.80 L482.70,107.30 L484.12,106.84 L485.56,106.41 L487.01,106.01 L488.47,105.65 L489.94,105.32 L491.41,105.01 L492.90,104.74 L494.39,104.49 L495.88,104.27 L497.38,104.07 L498.88,103.89 L500.38,103.73 L501.89,103.60 L503.39,103.48 L504.90,103.39 L506.40,103.32 L507.91,103.27 L509.41,103.24 L510.91,103.23 L512.42,103.25 L513.92,103.29 L515.42,103.37 L516.92,103.46 L518.42,103.59 L519.92,103.75 L521.41,103.94 L522.90,104.15 L524.38,104.40 L525.86,104.68 L527.34,104.99 L528.80,105.33 L530.26,105.69 L531.72,106.09 L533.16,106.52 L534.60,106.97 L536.02,107.46 L537.44,107.97 L538.85,108.51 L540.24,109.07 L541.63,109.66 L543.00,110.28 L544.37,110.92 L545.72,111.59 L547.06,112.28 L548.38,112.99 L549.69,113.73 L550.99,114.49 L552.28,115.28 L553.55,116.09 L554.81,116.92 L556.05,117.78 L557.27,118.65 L558.48,119.55 L559.68,120.47 L560.85,121.42 L562.01,122.38 L563.15,123.37 L564.26,124.38 L565.36,125.40 L566.44,126.46 L567.49,127.53 L568.52,128.62 L569.53,129.73 L570.52,130.87 L571.48,132.02 L572.43,133.18 L573.36,134.37 L574.27,135.57 L575.16,136.78 L576.04,138.00 L576.91,139.24 L577.76,140.48 L578.60,141.74 L579.43,143.00 L580.24,144.28 L581.04,145.56 L581.81,146.86 L582.57,148.16 L583.31,149.47 L584.02,150.80 L584.70,152.14 L585.35,153.49 L585.97,154.86 L586.55,156.24 L587.10,157.63 L587.61,159.04 L588.09,160.46 L588.53,161.90 L588.94,163.34 L589.32,164.80 L589.67,166.27 L589.99,167.74 L590.29,169.22 L590.56,170.71 L590.80,172.20 L591.03,173.69 L591.23,175.19 L591.41,176.68 L591.56,178.18 L591.69,179.69 L591.80,181.19 L591.88,182.69 L591.94,184.19 L591.97,185.70 L591.97,187.20 L591.94,188.70 L591.88,190.20 L591.80,191.70 L591.68,193.20 L591.54,194.70 L591.37,196.19 L591.18,197.69 L590.97,199.18 L590.73,200.67 L590.47,202.15 L590.20,203.63 L589.91,205.11 L589.60,206.59 L589.28,208.06 L588.95,209.53 L588.60,211.00 L588.25,212.46 L587.89,213.93 L587.52,215.39 L587.15,216.85 L586.78,218.30 L586.41,219.76 L586.04,221.22 L585.66,222.68 L585.30,224.14 L584.93,225.60 L584.58,227.06 L584.23,228.53 L583.89,230.00 L583.56,231.47 L583.23,232.94 L582.92,234.41 L582.62,235.89 L582.34,237.37 L582.06,238.85 L581.80,240.33 L581.55,241.82 L581.32,243.30 L581.10,244.79 L580.90,246.29 L580.71,247.78 L580.54,249.28 L580.39,250.77 L580.25,252.27 L580.13,253.77 L580.03,255.28 L579.95,256.78 L579.88,258.28 L579.84,259.79 L579.81,261.29 L579.80,262.80 L579.80,264.30 L579.83,265.81 L579.86,267.31 L579.91,268.81 L579.97,270.32 L580.04,271.82 L580.11,273.33 L580.19,274.83 L580.28,276.34 L580.37,277.84 L580.46,279.34 L580.55,280.85 L580.64,282.35 L580.73,283.85 L580.82,285.36 L580.92,286.86 L581.02,288.36 L581.12,289.87 L581.23,291.37 L581.35,292.87 L581.47,294.37 L581.60,295.87 L581.73,297.37 L581.87,298.87 L582.02,300.37 L582.16,301.87 L582.31,303.36 L582.46,304.86 L582.60,306.36 L582.73,307.86 L582.86,309.36 L582.97,310.86 L583.08,312.36 L583.17,313.87 L583.25,315.37 L583.31,316.87 L583.37,318.38 L583.41,319.88 L583.44,321.39 L583.46,322.89 L583.48,324.40 L583.49,325.90 L583.49,327.41 L583.50,328.92 L583.50,330.42 L583.50,331.93 L583.49,333.44 L583.49,334.94 L583.49,336.45 L583.49,337.96 L583.49,339.46 L583.49,340.97 L583.49,342.47 L583.49,343.98 L583.49,345.48 L583.50,346.99 L583.50,348.49 L583.50,350.00" class="cl"/>
<line x1="568.40" y1="356.00" x2="568.40" y2="374.70" class="o"/>
<line x1="592.00" y1="356.50" x2="592.00" y2="374.70" class="o"/>
<line x1="570.90" y1="356.70" x2="592.00" y2="356.70" class="o"/>
<path d="M424.40,228.30 L425.88,228.65 L427.35,229.00 L428.83,229.34 L430.30,229.69 L431.78,230.04 L433.26,230.39 L434.73,230.73 L436.21,231.08 L437.68,231.43 L439.16,231.77 L440.64,232.12 L442.11,232.46 L443.59,232.81 L445.07,233.15 L446.54,233.50 L448.02,233.84 L449.50,234.18 L450.98,234.53 L452.45,234.87 L453.93,235.21 L455.41,235.56 L456.88,235.90 L458.36,236.25 L459.84,236.60 L461.31,236.96 L462.78,237.31 L464.26,237.68 L465.73,238.04 L467.20,238.41 L468.67,238.79 L470.13,239.17 L471.60,239.55 L473.07,239.94 L474.53,240.33 L476.00,240.73 L477.46,241.12 L478.92,241.52 L480.39,241.92 L481.85,242.31 L483.32,242.71 L484.78,243.10 L486.25,243.48 L487.71,243.87 L489.18,244.24 L490.65,244.62 L492.12,244.99 L493.59,245.36 L495.07,245.72 L496.54,246.08 L498.01,246.44 L499.49,246.80 L500.96,247.16 L502.43,247.51 L503.91,247.87 L505.38,248.23 L506.85,248.59 L508.32,248.96 L509.79,249.33 L511.26,249.71 L512.73,250.09 L514.20,250.48 L515.66,250.87 L517.12,251.28 L518.58,251.70 L520.03,252.13 L521.48,252.57 L522.92,253.04 L524.36,253.52 L525.79,254.03 L527.20,254.56 L528.61,255.12 L530.01,255.71 L531.39,256.32 L532.76,256.97 L534.11,257.65 L535.44,258.36 L536.76,259.11 L538.06,259.88 L539.34,260.69 L540.60,261.53 L541.84,262.40 L543.06,263.30 L544.26,264.22 L545.43,265.18 L546.58,266.16 L547.71,267.17 L548.82,268.21 L549.90,269.27 L550.95,270.36 L551.98,271.47 L552.98,272.61 L553.95,273.77 L554.89,274.95 L555.80,276.16 L556.68,277.38 L557.54,278.63 L558.37,279.90 L559.17,281.18 L559.95,282.48 L560.70,283.80 L561.44,285.13 L562.15,286.47 L562.84,287.82 L563.50,289.19 L564.13,290.56 L564.74,291.95 L565.31,293.35 L565.85,294.77 L566.34,296.19 L566.80,297.63 L567.21,299.08 L567.58,300.55 L567.91,302.02 L568.20,303.50 L568.46,305.00 L568.68,306.50 L568.87,308.00 L569.03,309.51 L569.16,311.02 L569.28,312.53 L569.37,314.05 L569.45,315.56 L569.51,317.08 L569.56,318.59 L569.60,320.11 L569.63,321.62 L569.66,323.14 L569.67,324.66 L569.69,326.17 L569.70,327.69 L569.70,329.20 L569.70,330.72 L569.71,332.24 L569.71,333.75 L569.71,335.27 L569.70,336.79 L569.70,338.30 L569.70,339.82 L569.70,341.34 L569.70,342.85 L569.70,344.37 L569.70,345.89 L569.70,347.40 L569.70,348.92 L569.70,350.43 L569.70,351.95 L569.70,353.47 L569.70,354.98 L569.70,356.50" style="fill:none" stroke="#000" stroke-width="3.3"/>
<path d="M424.40,228.30 L425.88,228.65 L427.35,229.00 L428.83,229.34 L430.30,229.69 L431.78,230.04 L433.26,230.39 L434.73,230.73 L436.21,231.08 L437.68,231.43 L439.16,231.77 L440.64,232.12 L442.11,232.46 L443.59,232.81 L445.07,233.15 L446.54,233.50 L448.02,233.84 L449.50,234.18 L450.98,234.53 L452.45,234.87 L453.93,235.21 L455.41,235.56 L456.88,235.90 L458.36,236.25 L459.84,236.60 L461.31,236.96 L462.78,237.31 L464.26,237.68 L465.73,238.04 L467.20,238.41 L468.67,238.79 L470.13,239.17 L471.60,239.55 L473.07,239.94 L474.53,240.33 L476.00,240.73 L477.46,241.12 L478.92,241.52 L480.39,241.92 L481.85,242.31 L483.32,242.71 L484.78,243.10 L486.25,243.48 L487.71,243.87 L489.18,244.24 L490.65,244.62 L492.12,244.99 L493.59,245.36 L495.07,245.72 L496.54,246.08 L498.01,246.44 L499.49,246.80 L500.96,247.16 L502.43,247.51 L503.91,247.87 L505.38,248.23 L506.85,248.59 L508.32,248.96 L509.79,249.33 L511.26,249.71 L512.73,250.09 L514.20,250.48 L515.66,250.87 L517.12,251.28 L518.58,251.70 L520.03,252.13 L521.48,252.57 L522.92,253.04 L524.36,253.52 L525.79,254.03 L527.20,254.56 L528.61,255.12 L530.01,255.71 L531.39,256.32 L532.76,256.97 L534.11,257.65 L535.44,258.36 L536.76,259.11 L538.06,259.88 L539.34,260.69 L540.60,261.53 L541.84,262.40 L543.06,263.30 L544.26,264.22 L545.43,265.18 L546.58,266.16 L547.71,267.17 L548.82,268.21 L549.90,269.27 L550.95,270.36 L551.98,271.47 L552.98,272.61 L553.95,273.77 L554.89,274.95 L555.80,276.16 L556.68,277.38 L557.54,278.63 L558.37,279.90 L559.17,281.18 L559.95,282.48 L560.70,283.80 L561.44,285.13 L562.15,286.47 L562.84,287.82 L563.50,289.19 L564.13,290.56 L564.74,291.95 L565.31,293.35 L565.85,294.77 L566.34,296.19 L566.80,297.63 L567.21,299.08 L567.58,300.55 L567.91,302.02 L568.20,303.50 L568.46,305.00 L568.68,306.50 L568.87,308.00 L569.03,309.51 L569.16,311.02 L569.28,312.53 L569.37,314.05 L569.45,315.56 L569.51,317.08 L569.56,318.59 L569.60,320.11 L569.63,321.62 L569.66,323.14 L569.67,324.66 L569.69,326.17 L569.70,327.69 L569.70,329.20 L569.70,330.72 L569.71,332.24 L569.71,333.75 L569.71,335.27 L569.70,336.79 L569.70,338.30 L569.70,339.82 L569.70,341.34 L569.70,342.85 L569.70,344.37 L569.70,345.89 L569.70,347.40 L569.70,348.92 L569.70,350.43 L569.70,351.95 L569.70,353.47 L569.70,354.98 L569.70,356.50" style="fill:none" stroke="#fff" stroke-width="1.2"/>
<g transform="translate(398.7 209.6) rotate(12.9)">
<rect x="0" y="0" width="27.4" height="9.5" class="o" style="fill:#fff"/>
<rect x="-1.3" y="11" width="30.3" height="15" class="o" style="fill:#fff"/>
<line x1="-0.5" y1="9.7" x2="28" y2="9.7" class="o" stroke-width="1.6"/>
<line x1="-1" y1="11.2" x2="28.8" y2="11.2" class="o" stroke-width="1.6"/>
<rect x="2.3" y="26" width="22.2" height="5.8" class="o" style="fill:#fff"/>
<line x1="14" y1="0" x2="12" y2="34" class="cl"/>
</g>
<g transform="translate(381.8 84.7) rotate(-47.8)">
<path d="M0,0.6 H22 M0,22.2 H22" class="dash"/>
<line x1="0.00" y1="0.60" x2="0.00" y2="22.20" class="thin"/>
<rect x="22.2" y="-2" width="8.6" height="27.5" class="thin" style="fill:#fff"/>
<line x1="0.00" y1="0.60" x2="0.00" y2="-46.50" class="d"/>
<line x1="31.40" y1="-2.00" x2="31.40" y2="-46.50" class="d"/>
<line x1="22.60" y1="-2.00" x2="22.60" y2="-31.00" class="d"/>
<line x1="0.00" y1="-44.20" x2="31.40" y2="-44.20" class="d"/>
<path d="M0.00,-44.20 L8.00,-45.80 L8.00,-42.60 Z" fill="#000"/>
<path d="M31.40,-44.20 L23.40,-42.60 L23.40,-45.80 Z" fill="#000"/>
<line x1="0.00" y1="-28.80" x2="22.60" y2="-28.80" class="d"/>
<path d="M0.00,-28.80 L8.00,-30.40 L8.00,-27.20 Z" fill="#000"/>
<path d="M22.60,-28.80 L14.60,-27.20 L14.60,-30.40 Z" fill="#000"/>
<line x1="0.00" y1="0.60" x2="-26.50" y2="0.60" class="d"/>
<line x1="0.00" y1="22.20" x2="-26.50" y2="22.20" class="d"/>
<line x1="-24.20" y1="-33.40" x2="-24.20" y2="22.20" class="d"/>
<path d="M-24.20,0.60 L-22.60,8.60 L-25.80,8.60 Z" fill="#000"/>
<path d="M-24.20,22.20 L-25.80,14.20 L-22.60,14.20 Z" fill="#000"/>
</g>
<text transform="translate(355.30 40.10) rotate(-47.8) scale(0.890 1)" font-size="14.70" text-anchor="middle" dominant-baseline="central">35</text>
<text transform="translate(363.20 53.20) rotate(-47.8) scale(0.890 1)" font-size="14.70" text-anchor="middle" dominant-baseline="central">25</text>
<text transform="translate(354.50 83.90) rotate(42.2) scale(0.890 1)" font-size="14.70" text-anchor="middle" dominant-baseline="central">Ø24</text>
<line x1="354.00" y1="243.30" x2="402.00" y2="243.30" class="d"/>
<line x1="355.00" y1="243.30" x2="355.00" y2="465.30" class="d"/>
<path d="M355.00,243.30 L356.60,251.30 L353.40,251.30 Z" fill="#000"/>
<path d="M355.00,465.30 L353.40,457.30 L356.60,457.30 Z" fill="#000"/>
<text transform="translate(348.59 354.27) rotate(-90.0) scale(0.888 1)" font-size="14.52" text-anchor="middle" dominant-baseline="central">245</text>
<line x1="391.50" y1="234.50" x2="391.50" y2="570.00" class="d"/>
<line x1="404.90" y1="244.00" x2="404.90" y2="294.50" class="d"/>
<line x1="404.90" y1="293.60" x2="578.00" y2="293.60" class="d"/>
<path d="M578.00,293.60 L570.00,295.20 L570.00,292.00 Z" fill="#000"/>
<path d="M404.90,293.60 L412.90,292.00 L412.90,295.20 Z" fill="#000"/>
<text transform="translate(491.36 286.63) rotate(0.0) scale(0.890 1)" font-size="15.15" text-anchor="middle" dominant-baseline="central">175</text>
<line x1="391.50" y1="568.30" x2="604.30" y2="568.30" class="d"/>
<path d="M391.50,568.30 L399.50,566.70 L399.50,569.90 Z" fill="#000"/>
<path d="M604.30,568.30 L596.30,569.90 L596.30,566.70 Z" fill="#000"/>
<line x1="604.30" y1="460.70" x2="604.30" y2="570.00" class="d"/>
<text transform="translate(497.90 561.73) rotate(0.0) scale(0.919 1)" font-size="15.04" text-anchor="middle" dominant-baseline="central">220</text>
<path d="M521.95,357.35 A82.8,82.8 0 0 1 643.93,362.68" class="d"/>
<line x1="580.50" y1="415.90" x2="521.95" y2="357.35" class="d"/>
<line x1="580.50" y1="415.90" x2="643.93" y2="362.68" class="d"/>
<path d="M521.95,357.35 L526.83,350.81 L528.97,353.19 Z" fill="#000"/>
<path d="M643.93,362.68 L637.84,357.25 L640.39,355.33 Z" fill="#000"/>
<path d="M571.80,333.30 L576.80,331.80 L576.80,334.80 Z" fill="#000"/>
<path d="M588.50,333.30 L583.50,334.80 L583.50,331.80 Z" fill="#000"/>
<text transform="translate(546.20 333.40) rotate(-18.0) scale(0.890 1)" font-size="15.00" text-anchor="middle" dominant-baseline="central">45°</text>
<text transform="translate(618.60 335.60) rotate(22.0) scale(0.890 1)" font-size="15.00" text-anchor="middle" dominant-baseline="central">50°</text>
<path d="M562.1,461 V374.7 H598.3 V461" class="o" style="fill:#fff"/>
<g transform="rotate(-45 580.5 415.9)">
<rect x="576.9" y="352" width="6.6" height="29" class="dash" style="fill:none"/>
<path d="M578.3,381 V399 M581.6,381 V399" class="dash"/>
</g>
<g transform="rotate(50 580.5 415.9)">
<rect x="576.9" y="352" width="6.6" height="29" class="dash" style="fill:none"/>
<path d="M578.3,381 V399 M581.6,381 V399" class="dash"/>
</g>
<line x1="580.50" y1="415.90" x2="567.06" y2="402.46" class="d"/>
<line x1="580.50" y1="415.90" x2="595.05" y2="403.69" class="d"/>
<circle cx="580.3" cy="415.9" r="17.3" class="o" style="fill:none"/>
<line x1="580.50" y1="415.90" x2="568.27" y2="403.67" class="d"/>
<line x1="580.50" y1="415.90" x2="593.75" y2="404.78" class="d"/>
<rect x="576.7" y="352" width="6.7" height="29" class="o" style="fill:#fff"/>
<line x1="576.70" y1="355.80" x2="583.40" y2="355.80" class="thin"/>
<path d="M578.3,381 V398.8 M581.6,381 V398.8" class="o"/>
<line x1="523.50" y1="453.00" x2="598.30" y2="453.00" class="d"/>
<path d="M562.10,453.00 L570.10,451.40 L570.10,454.60 Z" fill="#000"/>
<path d="M598.30,453.00 L590.30,454.60 L590.30,451.40 Z" fill="#000"/>
<text transform="translate(536.63 447.00) rotate(0.0) scale(0.911 1)" font-size="14.48" text-anchor="middle" dominant-baseline="central">Ø45</text>
<line x1="352.50" y1="465.20" x2="655.00" y2="465.20" class="d"/>
<rect x="556.5" y="460.7" width="47.5" height="4.4" class="o" style="fill:#fff"/>
<rect x="505.4" y="465.2" width="149.4" height="27.2" style="fill:url(#hatchR)" class="o"/>
<rect x="562.4" y="465.2" width="35.8" height="27.2" style="fill:#fff" class="o"/>
<rect x="565.4" y="466" width="29.8" height="26" style="fill:url(#thread)"/>
<line x1="565.20" y1="465.20" x2="565.20" y2="492.40" class="o"/>
<line x1="595.40" y1="465.20" x2="595.40" y2="492.40" class="o"/>
<line x1="604.30" y1="460.70" x2="604.30" y2="570.00" class="d"/>
<path d="M562.4,492.6 V502 L564.4,503.5 V510 L562.4,511.5 V534.4 M598.2,492.6 V502 L596.2,503.5 V510 L598.2,511.5 V534.4" class="o"/>
<line x1="562.4" y1="492.9" x2="598.2" y2="492.9" class="o" stroke-width="2"/>
<line x1="563.4" y1="495" x2="597.2" y2="495" class="o"/>
<rect x="564.4" y="503.5" width="31.8" height="6.5" style="fill:url(#thread)"/>
<line x1="562.4" y1="511.5" x2="598.2" y2="511.5" class="o"/>
<line x1="562.4" y1="513.5" x2="598.2" y2="513.5" class="thin"/>
<rect x="561.7" y="534.4" width="37.2" height="13.8" rx="1.6" class="o" style="fill:#fff"/>
<line x1="574.1" y1="534.4" x2="574.1" y2="548.2" class="o2"/>
<line x1="586.5" y1="534.4" x2="586.5" y2="548.2" class="o2"/>
<ellipse cx="567.90" cy="541.3" rx="2.45" ry="4.6" style="fill:none;stroke:#000;stroke-width:1.35"/>
<ellipse cx="580.30" cy="541.3" rx="2.45" ry="4.6" style="fill:none;stroke:#000;stroke-width:1.35"/>
<ellipse cx="592.70" cy="541.3" rx="2.45" ry="4.6" style="fill:none;stroke:#000;stroke-width:1.35"/>
<path d="M576,548.7 V588.8 L578.3,586.5 L580.5,585.7 L582.7,586.5 L585,588.8 V548.7 Z" style="fill:url(#braid)" class="ho"/>
<path d="M576,639.3 V596.6 L580.5,593 L585,596.6 V639.3 Z" style="fill:url(#braid)" class="ho"/>
<rect x="577" y="639.3" width="6.6" height="5.5" class="o" style="fill:#fff"/>
<rect x="571.3" y="644.8" width="18.1" height="9.5" class="o" style="fill:#fff"/>
<line x1="574.00" y1="644.80" x2="574.00" y2="654.30" class="o"/>
<line x1="587.00" y1="644.80" x2="587.00" y2="654.30" class="o"/>
<line x1="571.30" y1="654.30" x2="571.30" y2="680.00" class="d"/>
<line x1="589.40" y1="654.30" x2="589.40" y2="680.00" class="d"/>
<line x1="555.40" y1="678.40" x2="657.40" y2="678.40" class="d"/>
<path d="M571.30,678.40 L563.30,680.00 L563.30,676.80 Z" fill="#000"/>
<path d="M589.40,678.40 L597.40,676.80 L597.40,680.00 Z" fill="#000"/>
<text transform="translate(638.86 671.27) rotate(0.0) scale(0.823 1)" font-size="16.26" text-anchor="middle" dominant-baseline="central">G 1/2"</text>
<path d="M586.3,602.6 L611,610.5 H618" class="d"/>
<path d="M586.30,602.60 L594.41,603.51 L593.43,606.56 Z" fill="#000"/>
<text transform="translate(640.76 611.32) rotate(0.0) scale(0.931 1)" font-size="17.18" text-anchor="middle" dominant-baseline="central">L=500</text>
</svg>
</body></html>
